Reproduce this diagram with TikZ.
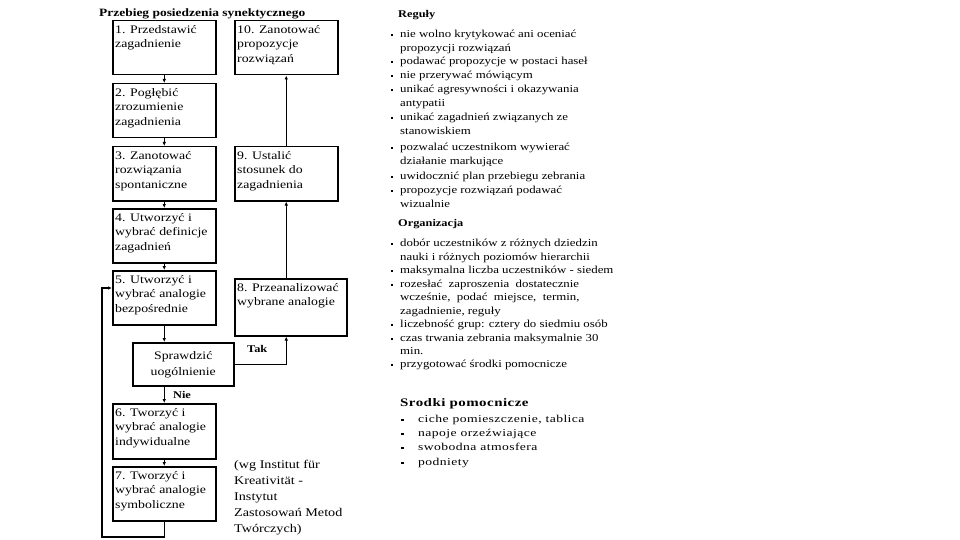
\documentclass[tikz,border=0pt]{standalone}
\usepackage{fontspec}
\setmainfont{Liberation Serif}
\newfontfamily\wfont[FakeStretch=1.2]{Liberation Serif}
\newfontfamily\wwfont[FakeStretch=1.3,LetterSpace=4]{Liberation Serif}
\usetikzlibrary{arrows.meta}
\begin{document}
\begin{tikzpicture}[x=1pt,y=-1pt,
  box/.style={draw, line width=1.5pt, anchor=north west, inner sep=0pt, minimum width=103pt, minimum height=54pt},
  btxt/.style={anchor=north west, inner xsep=3pt, inner ysep=5pt, align=left, font=\wfont\fontsize{11.5}{14.5}\selectfont},
  arr/.style={line width=1.1pt, -{Latex[length=4pt,width=3.5pt]}},
  rl/.style={anchor=west, inner sep=0pt, text height=1.5ex, text depth=.25ex, font=\wfont\fontsize{10.7}{12}\selectfont},
  rh/.style={anchor=west, inner sep=0pt, text height=1.5ex, text depth=.25ex, font=\wfont\bfseries\fontsize{10.3}{12}\selectfont},
  sl/.style={anchor=west, inner sep=0pt, text height=1.5ex, text depth=.25ex, font=\wwfont\fontsize{10.5}{12}\selectfont},
  bul/.style={fill, inner sep=0pt, minimum width=2.6pt, minimum height=2.6pt},
  sbul/.style={fill, inner sep=0pt, minimum width=3pt, minimum height=2.6pt}]
\path[use as bounding box, fill=white] (0,0) rectangle (960,540);

% title
\node[anchor=west, inner sep=0pt, font=\wfont\bfseries\fontsize{11.2}{12}\selectfont] (title) at (99,14) {Przebieg posiedzenia synektycznego};

% boxes
\node[box] (b1) at (112,20) {};
\node[btxt] (t1) at (b1.north west) {1. Przedstawić\\zagadnienie};
\node[box] (b2) at (112,83) {};
\node[btxt] (t2) at (b2.north west) {2. Pogłębić\\zrozumienie\\zagadnienia};
\node[box] (b3) at (112,146) {};
\node[btxt] (t3) at (b3.north west) {3. Zanotować\\rozwiązania\\spontaniczne};
\node[box] (b4) at (112,208) {};
\node[btxt] (t4) at (b4.north west) {4. Utworzyć i\\wybrać definicje\\zagadnień};
\node[box] (b5) at (112,270) {};
\node[btxt] (t5) at (b5.north west) {5. Utworzyć i\\wybrać analogie\\bezpośrednie};
\node[box, minimum width=101pt, minimum height=43pt, align=center, font=\wfont\fontsize{11.5}{16}\selectfont] (sp) at (132,342) {Sprawdzić\\uogólnienie};
\node[box, minimum height=55pt] (b6) at (112,403) {};
\node[btxt] (t6) at (b6.north west) {6. Tworzyć i\\wybrać analogie\\indywidualne};
\node[box] (b7) at (112,466) {};
\node[btxt] (t7) at (b7.north west) {7. Tworzyć i\\wybrać analogie\\symboliczne};

\node[box] (b10) at (234,20) {};
\node[btxt] (t10) at (b10.north west) {10. Zanotować\\propozycje\\rozwiązań};
\node[box] (b9) at (234,146) {};
\node[btxt] (t9) at (b9.north west) {9. Ustalić\\stosunek do\\zagadnienia};
\node[box, minimum width=112pt, minimum height=57pt] (b8) at (234,278) {};
\node[btxt] (t8) at (b8.north west) {8. Przeanalizować\\wybrane analogie};

% connectors
\draw[arr] (b1.south) -- (b2.north);
\draw[arr] (b2.south) -- (b3.north);
\draw[arr] (b3.south) -- (b4.north);
\draw[arr] (b4.south) -- (b5.north);
\draw[arr] (b5.south) -- (b5.south |- sp.north);
\draw[arr] (b6.north |- sp.south) -- node[right=5pt, font=\wfont\bfseries\fontsize{10.3}{12}\selectfont] (nie) {Nie} (b6.north);
\draw[arr] (b6.south) -- (b7.north);
\coordinate (lp) at (102,537);
\coordinate (b5in) at (112,288);
\draw[arr] (b7.south) |- (lp) |- (b5in);
\draw[arr] (sp.east) -| node[pos=0.22, above=8pt, font=\wfont\bfseries\fontsize{10.3}{12}\selectfont] (tak) {Tak} (b9.south |- b8.south);
\draw[arr] (b9.south |- b8.north) -- (b9.south);
\draw[arr] (b9.north) -- (b10.south);

% source
\node[anchor=north west, inner sep=0pt, align=left, font=\wfont\fontsize{11.8}{16}\selectfont] (src) at (234,460) {(wg Institut für\\Kreativität -\\Instytut\\Zastosowań Metod\\Twórczych)};

% Reguły
\node[rh] (rh) at (398,15) {Reguły};
\node[bul] (rb1) at (392,35) {}; \node[rl] (r1) at (400,35) {nie wolno krytykować ani oceniać};
\node[rl] (r1b) at (400,48.5) {propozycji rozwiązań};
\node[bul] (rb2) at (392,62) {}; \node[rl] (r2) at (400,62) {podawać propozycje w postaci haseł};
\node[bul] (rb3) at (392,76) {}; \node[rl] (r3) at (400,76) {nie przerywać mówiącym};
\node[bul] (rb4) at (392,90) {}; \node[rl] (r4) at (400,90) {unikać agresywności i okazywania};
\node[rl] (r4b) at (400,104) {antypatii};
\node[bul] (rb5) at (392,118) {}; \node[rl] (r5) at (400,118) {unikać zagadnień związanych ze};
\node[rl] (r5b) at (400,132) {stanowiskiem};
\node[bul] (rb6) at (392,148) {}; \node[rl] (r6) at (400,148) {pozwalać uczestnikom wywierać};
\node[rl] (r6b) at (400,162) {działanie markujące};
\node[bul] (rb7) at (392,177) {}; \node[rl] (r7) at (400,177) {uwidocznić plan przebiegu zebrania};
\node[bul] (rb8) at (392,191) {}; \node[rl] (r8) at (400,191) {propozycje rozwiązań podawać};
\node[rl] (r8b) at (400,205) {wizualnie};

% Organizacja
\node[rh] (oh) at (398,224) {Organizacja};
\node[bul] (ob1) at (392,244) {}; \node[rl] (o1) at (400,244) {dobór uczestników z różnych dziedzin};
\node[rl] (o1b) at (400,257.5) {nauki i różnych poziomów hierarchii};
\node[bul] (ob2) at (392,271) {}; \node[rl] (o2) at (400,271) {maksymalna liczba uczestników - siedem};
\node[bul] (ob3) at (392,285) {}; \node[rl] (o3) at (400,285) {rozesłać\ \ zaproszenia\ \ dostatecznie};
\node[rl] (o3b) at (400,298) {wcześnie,\ \ podać\ \ miejsce,\ \ termin,};
\node[rl] (o3c) at (400,311.5) {zagadnienie, reguły};
\node[bul] (ob4) at (392,325) {}; \node[rl] (o4) at (400,325) {liczebność grup: cztery do siedmiu osób};
\node[bul] (ob5) at (392,339) {}; \node[rl] (o5) at (400,339) {czas trwania zebrania maksymalnie 30};
\node[rl] (o5b) at (400,352) {min.};
\node[bul] (ob6) at (392,365) {}; \node[rl] (o6) at (400,365) {przygotować środki pomocnicze};

% Środki
\node[anchor=west, inner sep=0pt, text height=1.5ex, text depth=.25ex, font=\wwfont\bfseries\fontsize{11.5}{12}\selectfont] (sh) at (400,404) {Srodki pomocnicze};
\node[sbul] (sb1) at (402,420) {}; \node[sl] (s1) at (418,420) {ciche pomieszczenie, tablica};
\node[sbul] (sb2) at (402,434) {}; \node[sl] (s2) at (418,434) {napoje orzeźwiające};
\node[sbul] (sb3) at (402,448) {}; \node[sl] (s3) at (418,448) {swobodna atmosfera};
\node[sbul] (sb4) at (402,463) {}; \node[sl] (s4) at (418,463) {podniety};
\end{tikzpicture}
\end{document}
